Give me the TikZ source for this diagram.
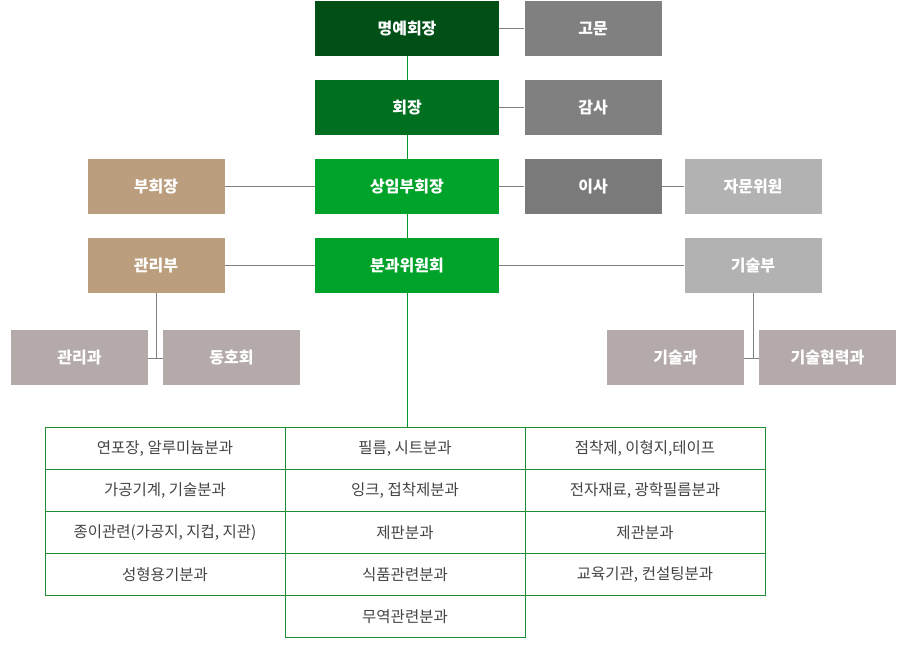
\documentclass[tikz,border=0pt]{standalone}
\usepackage{fontspec}
\setmainfont{Noto Sans CJK KR}
\usepackage{tikz}
\usetikzlibrary{positioning, calc}

\definecolor{hongreen}{HTML}{004F16}
\definecolor{presgreen}{HTML}{006F20}
\definecolor{vpgreen}{HTML}{00A32A}
\definecolor{midgray}{HTML}{808080}
\definecolor{dirgray}{HTML}{7A7A7A}
\definecolor{lightgray}{HTML}{B2B2B2}
\definecolor{tan}{HTML}{BB9E7D}
\definecolor{mauve}{HTML}{B5AAAA}
\definecolor{tablegreen}{HTML}{1E8C32}
\definecolor{linegreen}{HTML}{00962A}
\definecolor{textgray}{HTML}{444444}

\begin{document}
\begin{tikzpicture}[x=1pt, y=-1pt,
    box/.style={rectangle, inner sep=0pt, minimum height=55pt, text=white, font=\fontsize{16}{18}\selectfont\bfseries},
    widebox/.style={box, minimum width=184pt},
    smallbox/.style={box, minimum width=137pt},
    cell/.style={rectangle, draw=tablegreen, line width=1pt, inner sep=0pt, minimum width=240pt, minimum height=42pt, text=textgray, font=\fontsize{15.5}{17}\selectfont},
    greenline/.style={draw=linegreen, line width=1pt},
    grayline/.style={draw=midgray, line width=1pt}]
    \useasboundingbox (0,0) rectangle (909,655);

    \node[widebox, fill=hongreen] (hon) at (407,28.5) {명예회장};
    \node[widebox, fill=presgreen] (pres) at (407,107.5) {회장};
    \node[widebox, fill=vpgreen] (svp) at (407,186.5) {상임부회장};
    \node[widebox, fill=vpgreen] (com) at (407,265.5) {분과위원회};

    \node[smallbox, fill=midgray] (adv) at (593,28.5) {고문};
    \node[smallbox, fill=midgray] (aud) at (593,107.5) {감사};
    \node[smallbox, fill=dirgray] (dir) at (593,186.5) {이사};
    \node[smallbox, fill=lightgray] (cons) at (753,186.5) {자문위원};
    \node[smallbox, fill=lightgray] (tech) at (753,265.5) {기술부};
    \node[smallbox, fill=tan] (vp) at (156,186.5) {부회장};
    \node[smallbox, fill=tan] (mgmt) at (156,265.5) {관리부};

    \node[smallbox, fill=mauve] (mgmtsec) at (79.5,357.5) {관리과};
    \node[smallbox, fill=mauve] (club) at (231.5,357.5) {동호회};
    \node[smallbox, fill=mauve] (techsec) at (675.5,357.5) {기술과};
    \node[smallbox, fill=mauve] (coop) at (827.5,357.5) {기술협력과};

    \node[cell] (c11) at (165,448.3) {연포장, 알루미늄분과};
    \node[cell] (c21) at (165,490.3) {가공기계, 기술분과};
    \node[cell] (c31) at (165,532.3) {종이관련(가공지, 지컵, 지관)};
    \node[cell] (c41) at (165,574.3) {성형용기분과};
    \node[cell] (c12) at (405,448.3) {필름, 시트분과};
    \node[cell] (c22) at (405,490.3) {잉크, 접착제분과};
    \node[cell] (c32) at (405,532.3) {제판분과};
    \node[cell] (c42) at (405,574.3) {식품관련분과};
    \node[cell] (c52) at (405,616.3) {무역관련분과};
    \node[cell] (c13) at (645,448.3) {점착제, 이형지,테이프};
    \node[cell] (c23) at (645,490.3) {전자재료, 광학필름분과};
    \node[cell] (c33) at (645,532.3) {제관분과};
    \node[cell] (c43) at (645,574.3) {교육기관, 컨설팅분과};

    \draw[greenline] (hon) -- (pres);
    \draw[greenline] (pres) -- (svp);
    \draw[greenline] (svp) -- (com);
    \draw[greenline] (com.south) -- (com.south |- c12.north);

    \draw[grayline] (hon) -- (adv);
    \draw[grayline] (pres) -- (aud);
    \draw[grayline] (svp) -- (dir);
    \draw[grayline] (dir) -- (cons);
    \draw[grayline] (vp) -- (svp);
    \draw[grayline] (mgmt) -- (com);
    \draw[grayline] (com) -- (tech);

    \coordinate (mgmtjoin) at ($(mgmt.south |- mgmtsec.east)+(0,0.5)$);
    \coordinate (techjoin) at ($(tech.south |- techsec.east)+(0,0.5)$);
    \draw[grayline] (mgmt.south) -- (mgmtjoin);
    \draw[grayline] (mgmtsec.east |- mgmtjoin) -- (club.west |- mgmtjoin);
    \draw[grayline] (tech.south) -- (techjoin);
    \draw[grayline] (techsec.east |- techjoin) -- (coop.west |- techjoin);
\end{tikzpicture}
\end{document}
